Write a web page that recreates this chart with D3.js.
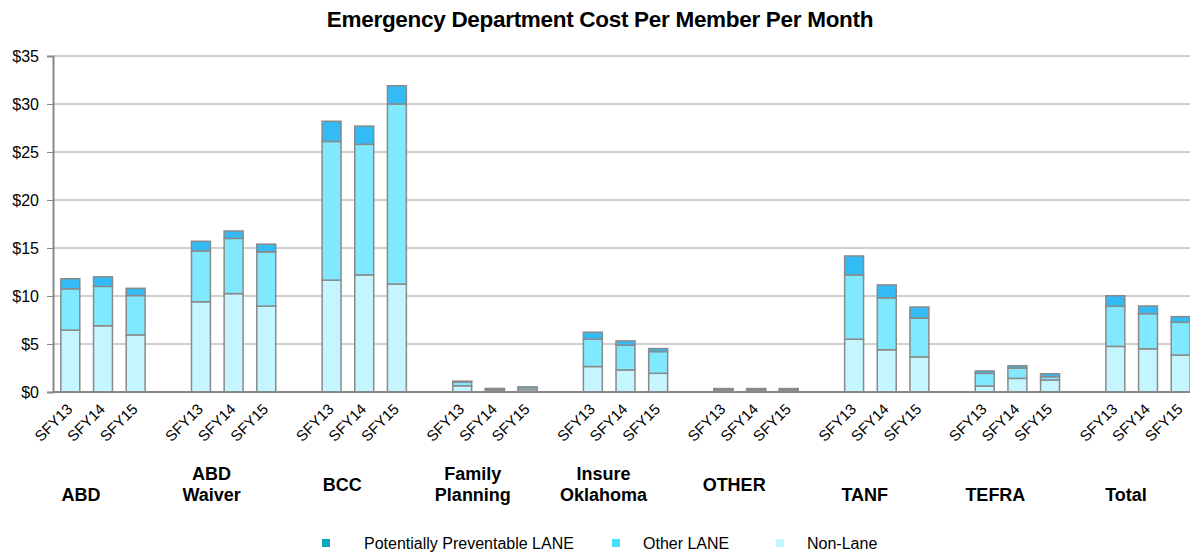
<!DOCTYPE html>
<html>
<head>
<meta charset="utf-8">
<script src="https://cdn.jsdelivr.net/npm/d3@7"></script>
<style>
  html, body { margin: 0; padding: 0; background: #fff; }
  svg { display: block; font-family: "Liberation Sans", Arial, sans-serif; }
</style>
</head>
<body>
<svg id="chart" width="1190" height="553"></svg>
<script>
// ---- Data ----
const groups = ["ABD", "ABD Waiver", "BCC", "Family Planning", "Insure Oklahoma", "OTHER", "TANF", "TEFRA", "Total"];
const groupLabelLines = [["", "ABD"], ["ABD", "Waiver"], ["BCC"], ["Family", "Planning"], ["Insure", "Oklahoma"], ["OTHER"], ["", "TANF"], ["", "TEFRA"], ["", "Total"]];
const years = ["SFY13", "SFY14", "SFY15"];
const seriesNames = ["Potentially Preventable LANE", "Other LANE", "Non-Lane"];
// values in group order, 3 years each
const nonLane = [6.45, 6.9, 5.95, 9.4, 10.25, 8.95, 11.65, 12.2, 11.25, 0.65, 0.2, 0.25, 2.65, 2.3, 1.95, 0.15, 0.15, 0.15, 5.5, 4.4, 3.65, 0.62, 1.42, 1.25, 4.75, 4.5, 3.85];
const otherLane = [4.3, 4.1, 4.1, 5.3, 5.75, 5.65, 14.45, 13.6, 18.75, 0.4, 0.12, 0.22, 2.85, 2.57, 2.26, 0.15, 0.15, 0.15, 6.7, 5.4, 4.05, 1.32, 1.08, 0.35, 4.18, 3.66, 3.41];
const prevLane = [1.05, 1.0, 0.75, 1.0, 0.77, 0.8, 2.1, 1.9, 1.9, 0.08, 0.05, 0.06, 0.73, 0.45, 0.31, 0.06, 0.06, 0.06, 1.97, 1.35, 1.15, 0.25, 0.24, 0.3, 1.1, 0.8, 0.59];
const yTicks = [0, 5, 10, 15, 20, 25, 30, 35];

// ---- Styles ----
const barColors = { nonLane: "#C5F5FF", otherLane: "#80E9FF", prevLane: "#33BBF5" };
const legendColors = ["#0AA6C5", "#44DDFF", "#C5F5FF"];

const svg = d3.select("#chart");

// rows
const rows = [];
groups.forEach((g, gi) => {
  years.forEach((yr, yi) => {
    const i = gi * 3 + yi;
    rows.push({ key: g + "|" + yr, group: g, year: yr, nonLane: nonLane[i], otherLane: otherLane[i], prevLane: prevLane[i] });
  });
});
// slot domain with spacers between groups
const slots = [];
groups.forEach((g, gi) => {
  years.forEach(yr => slots.push(g + "|" + yr));
  if (gi < groups.length - 1) slots.push("gap" + gi);
});

const x = d3.scaleBand().domain(slots).range([54, 1197]).paddingInner(0.42).paddingOuter(0.21);
const y = d3.scaleLinear().domain([0, 35]).range([392, 56]);

// gridlines
svg.append("g").selectAll("line").data(yTicks.filter(d => d > 0)).join("line")
  .attr("x1", 53).attr("x2", 1190)
  .attr("y1", d => y(d)).attr("y2", d => y(d))
  .attr("stroke", "#A0A0A0").attr("stroke-width", 1);

// y axis
const yAxis = d3.axisLeft(y).tickValues(yTicks).tickFormat(d => "$" + d).tickSize(6).tickPadding(8);
const yg = svg.append("g").attr("transform", "translate(53,0)").call(yAxis);
yg.select(".domain").attr("stroke", "#888").attr("stroke-width", 2);
yg.selectAll(".tick line").attr("stroke", "#888").attr("stroke-width", 1);
yg.selectAll(".tick text").attr("font-size", 16).attr("fill", "#000").attr("font-family", "Liberation Sans, Arial, sans-serif");

// bars
const stack = d3.stack().keys(["nonLane", "otherLane", "prevLane"]);
const stacked = stack(rows);
svg.append("g").selectAll("g").data(stacked).join("g")
  .attr("fill", d => barColors[d.key])
  .selectAll("rect").data(d => d).join("rect")
  .attr("x", d => x(d.data.key))
  .attr("width", x.bandwidth())
  .attr("y", d => y(d[1]))
  .attr("height", d => y(d[0]) - y(d[1]))
  .attr("stroke", "#8A8A8A").attr("stroke-width", 1.5);

// x axis line
svg.append("line").attr("x1", 53).attr("x2", 1190).attr("y1", y(0)).attr("y2", y(0))
  .attr("stroke", "#888").attr("stroke-width", 2);

// rotated year labels
svg.append("g").selectAll("text").data(rows).join("text")
  .attr("transform", d => `translate(${x(d.key) + x.bandwidth() / 2 + 3},${410}) rotate(-45)`)
  .attr("text-anchor", "end")
  .attr("font-size", 15)
  .attr("fill", "#000")
  .text(d => d.year);

// group labels
const gLab = svg.append("g").attr("font-size", 18).attr("font-weight", "bold").attr("fill", "#000").attr("text-anchor", "middle");
groups.forEach((g, gi) => {
  const cx = x(g + "|" + years[1]) + x.bandwidth() / 2 - 22;
  const lines = groupLabelLines[gi];
  const lh = 21;
  const baseY = 490.5 - (lines.length - 1) * lh / 2;
  lines.forEach((ln, li) => {
    if (!ln) return;
    gLab.append("text").attr("x", cx).attr("y", baseY + li * lh).text(ln);
  });
});

// title
svg.append("text").attr("x", 600).attr("y", 27).attr("text-anchor", "middle")
  .attr("font-size", 22.5).attr("font-weight", "bold").attr("fill", "#000")
  .attr("letter-spacing", -0.3)
  .text("Emergency Department Cost Per Member Per Month");

// legend
const legendX = [322, 612, 776];
const lg = svg.append("g");
seriesNames.forEach((name, i) => {
  lg.append("rect").attr("x", legendX[i]).attr("y", 539).attr("width", 8).attr("height", 8).attr("fill", legendColors[i]);
  lg.append("text").attr("x", legendX[i] + (i === 0 ? 42 : 31)).attr("y", 549).attr("font-size", 16).attr("fill", "#000").text(name);
});
</script>
</body>
</html>
